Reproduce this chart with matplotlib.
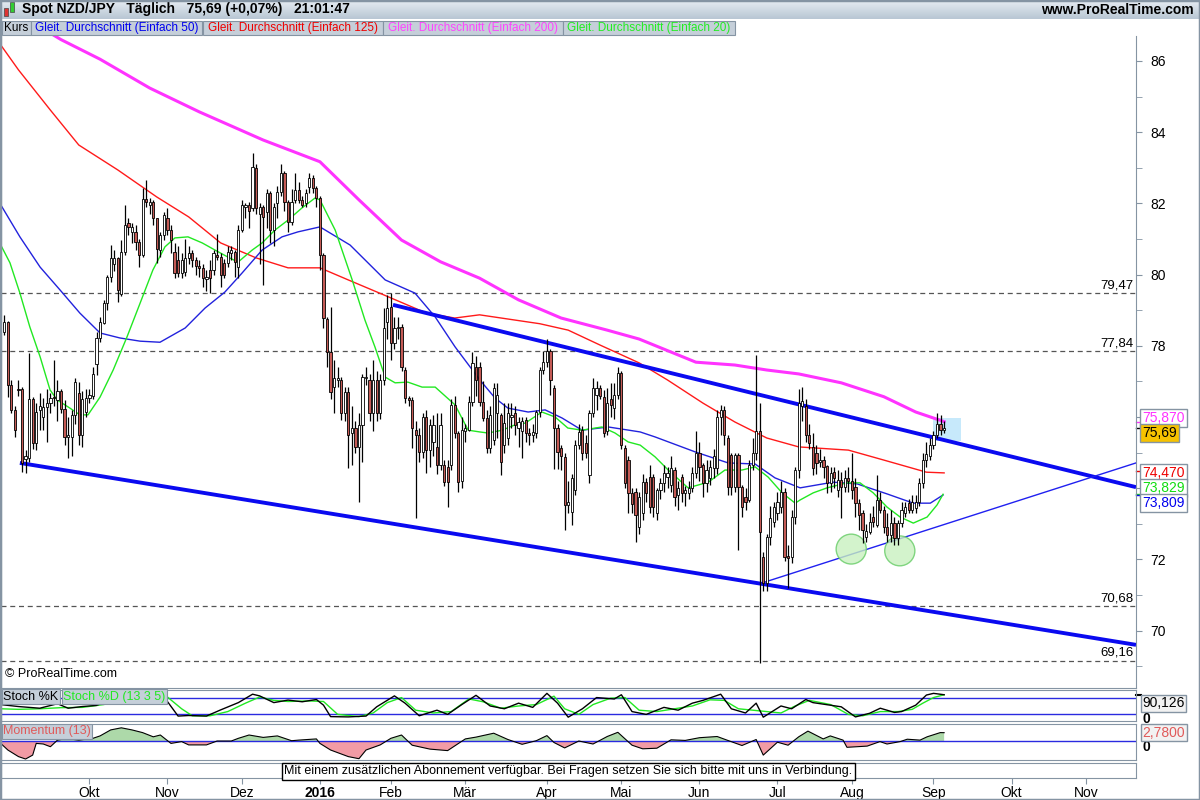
import numpy as np
import pandas as pd
import matplotlib
matplotlib.use('Agg')
import matplotlib.pyplot as plt
import matplotlib.transforms as mtrans
from matplotlib.patches import Rectangle, Ellipse

plt.rcParams['font.family'] = ['Liberation Sans', 'DejaVu Sans']

# ---- daily candles NZD/JPY, 28.08.2015 .. 06.09.2016 ----
opens = [78.38, 78.67, 76.90, 76.20, 76.80, 76.79, 74.82, 74.85, 76.50, 75.26,
         76.20, 76.00, 76.27, 76.40, 76.52, 76.48, 76.74, 76.22, 75.45, 75.45,
         76.06, 76.67, 75.50, 76.13, 76.54, 76.60, 77.48, 78.21, 78.63, 79.19,
         79.94, 80.30, 80.46, 79.45, 80.64, 81.44, 81.21, 81.21, 80.92, 80.55,
         82.11, 81.95, 82.05, 81.58, 80.69, 81.11, 81.58, 81.25, 80.64, 80.41,
         80.04, 80.08, 80.46, 80.60, 80.40, 80.25, 80.18, 79.88, 80.13, 80.13,
         80.55, 80.50, 80.32, 80.32, 80.60, 80.64, 80.22, 81.25, 81.90, 81.96,
         81.86, 82.99, 81.70, 81.90, 81.77, 82.28, 81.25, 82.00, 82.33, 82.85,
         82.05, 81.49, 82.10, 82.38, 82.10, 82.00, 82.47, 82.70, 82.42, 82.14,
         80.55, 78.74, 77.83, 76.85, 77.04, 77.04, 76.10, 76.71, 75.54, 75.68,
         75.17, 75.78, 77.09, 77.04, 76.10, 77.04, 76.10, 77.04, 78.68, 79.10,
         78.07, 78.50, 78.54, 77.32, 76.52, 76.48, 75.64, 75.49, 75.03, 76.01,
         75.07, 75.30, 75.17, 74.65, 74.65, 74.60, 74.65, 76.34, 75.54, 74.20,
         75.60, 75.64, 76.43, 77.41, 77.41, 76.43, 75.96, 75.12, 75.35, 76.10,
         76.06, 75.21, 75.40, 76.00, 76.10, 75.68, 75.60, 75.92, 75.54, 75.50,
         75.54, 76.15, 77.32, 77.55, 77.84, 76.81, 75.68, 75.12, 74.88, 73.53,
         73.34, 73.95, 75.21, 75.63, 75.26, 74.37, 76.10, 76.62, 76.81, 76.57,
         75.60, 76.50, 76.25, 76.62, 77.23, 75.12, 74.79, 73.86, 73.90, 72.92,
         73.29, 74.18, 74.32, 74.32, 73.29, 73.95, 74.14, 74.32, 74.10, 74.51,
         73.80, 74.32, 73.86, 73.86, 74.00, 74.42, 74.98, 74.65, 74.14, 74.30,
         74.56, 74.56, 76.01, 76.20, 75.40, 74.93, 74.04, 74.93, 74.04, 73.76,
         73.67, 74.65, 74.98, 75.60, 72.08, 71.33, 72.64, 73.06, 73.30, 73.48,
         73.90, 72.10, 72.08, 73.20, 74.50, 76.30, 76.30, 75.50, 75.17, 75.00,
         74.75, 74.80, 74.61, 74.14, 74.45, 73.95, 74.23, 74.04, 74.30, 74.20,
         74.04, 73.58, 73.29, 72.64, 72.78, 73.20, 72.97, 73.67, 73.39, 72.92,
         72.69, 73.01, 72.60, 73.01, 73.30, 73.58, 73.39, 73.45, 73.60, 74.15,
         74.80, 74.90, 75.20, 75.50, 75.80, 75.64]
highs = [78.87, 78.70, 77.04, 76.30, 77.04, 76.85, 75.07, 77.79, 76.55, 76.38,
         76.67, 76.54, 76.80, 76.67, 77.60, 77.04, 76.80, 76.48, 75.99, 76.20,
         77.10, 76.98, 76.74, 76.80, 76.80, 77.41, 78.40, 78.80, 79.30, 80.00,
         80.83, 80.70, 80.50, 80.97, 81.95, 81.60, 81.44, 81.39, 81.00, 82.42,
         82.66, 82.15, 82.10, 81.60, 81.20, 81.77, 81.86, 81.40, 80.88, 80.79,
         80.60, 81.00, 80.80, 80.70, 80.50, 80.41, 80.30, 80.13, 80.40, 80.70,
         81.15, 80.60, 80.45, 80.80, 80.80, 80.70, 81.40, 82.10, 82.00, 82.05,
         83.41, 83.10, 82.00, 81.95, 82.40, 82.35, 82.00, 82.50, 83.10, 82.90,
         82.10, 82.40, 82.85, 82.60, 82.20, 82.40, 82.85, 82.80, 82.50, 82.20,
         80.60, 78.80, 79.10, 77.60, 77.41, 77.13, 76.85, 76.85, 76.30, 75.90,
         76.10, 77.20, 77.40, 77.20, 77.60, 77.30, 77.20, 79.05, 79.43, 79.47,
         78.80, 78.80, 78.60, 77.40, 76.60, 76.55, 75.90, 75.70, 76.10, 76.20,
         75.95, 76.05, 76.10, 76.10, 74.80, 74.80, 76.50, 76.60, 75.60, 76.00,
         75.80, 76.60, 77.83, 77.70, 77.55, 77.00, 76.20, 76.30, 76.95, 76.95,
         76.10, 76.38, 76.40, 76.40, 76.30, 76.00, 76.00, 76.00, 75.70, 75.80,
         76.20, 77.41, 77.84, 78.20, 77.90, 76.90, 75.80, 75.20, 75.00, 74.20,
         74.40, 75.35, 75.80, 75.75, 75.50, 76.20, 77.10, 77.00, 76.90, 76.76,
         76.81, 76.95, 76.95, 77.40, 77.30, 75.20, 74.90, 74.00, 74.00, 73.90,
         74.40, 74.30, 74.65, 74.40, 74.00, 74.30, 74.65, 74.60, 74.90, 74.60,
         74.20, 74.40, 74.05, 74.20, 74.60, 75.60, 75.30, 74.70, 74.80, 74.80,
         75.10, 76.20, 76.34, 76.30, 75.50, 75.00, 75.00, 75.00, 74.10, 74.00,
         74.80, 75.40, 77.74, 76.38, 72.20, 72.70, 73.50, 73.60, 73.90, 74.20,
         74.00, 72.40, 73.40, 74.60, 76.80, 76.85, 76.50, 75.80, 75.54, 75.20,
         75.10, 74.90, 74.66, 74.60, 74.60, 74.50, 74.45, 74.50, 74.60, 75.00,
         74.30, 73.70, 73.40, 73.00, 73.30, 73.50, 74.37, 73.90, 73.50, 73.30,
         73.40, 73.20, 73.10, 73.60, 73.60, 73.70, 73.80, 73.80, 74.30, 75.00,
         75.30, 75.40, 75.60, 76.10, 76.05, 75.90]
lows = [78.30, 76.57, 76.10, 75.45, 76.60, 74.46, 74.42, 74.75, 75.10, 75.07,
        75.64, 75.64, 75.30, 76.10, 76.30, 75.90, 76.10, 75.20, 74.84, 74.90,
        75.80, 75.20, 75.17, 76.00, 76.40, 76.50, 77.17, 78.10, 78.60, 79.00,
        79.80, 80.10, 79.24, 79.40, 80.55, 81.10, 80.90, 80.70, 80.22, 80.50,
        81.90, 81.70, 81.40, 80.32, 80.50, 80.97, 81.10, 80.60, 79.90, 79.94,
        79.90, 79.95, 80.30, 80.20, 80.00, 79.94, 79.66, 79.55, 79.47, 80.00,
        80.40, 79.66, 79.90, 80.20, 80.40, 79.94, 79.90, 81.20, 81.60, 81.30,
        81.80, 81.70, 80.30, 79.71, 81.30, 80.90, 80.80, 81.60, 82.20, 81.80,
        81.20, 81.40, 82.00, 82.00, 81.90, 81.90, 82.30, 82.30, 81.90, 80.13,
        78.50, 77.41, 76.50, 76.10, 76.85, 75.92, 75.90, 74.56, 74.65, 74.98,
        73.62, 74.75, 76.90, 75.90, 75.60, 75.90, 75.95, 76.90, 78.20, 77.60,
        77.90, 78.20, 77.30, 76.40, 76.30, 75.12, 73.15, 74.75, 74.85, 74.42,
        74.60, 74.90, 74.40, 74.50, 74.05, 73.48, 74.50, 75.40, 73.90, 74.00,
        75.30, 75.60, 76.30, 76.60, 76.30, 75.90, 74.98, 75.00, 75.20, 75.40,
        74.37, 75.00, 75.20, 75.70, 75.50, 75.15, 74.84, 75.30, 75.20, 75.30,
        75.40, 76.00, 77.20, 77.40, 76.62, 74.55, 74.55, 74.50, 72.82, 73.30,
        72.97, 73.80, 75.10, 74.80, 74.84, 74.14, 76.00, 76.20, 76.50, 75.45,
        75.50, 76.00, 75.95, 76.50, 75.10, 74.00, 73.30, 73.30, 72.50, 72.70,
        73.10, 73.60, 73.30, 73.20, 73.10, 73.70, 73.90, 74.00, 73.90, 73.50,
        73.40, 73.60, 73.50, 73.70, 73.90, 74.30, 74.20, 73.76, 73.90, 74.10,
        74.30, 74.40, 75.50, 75.20, 73.80, 73.80, 73.90, 72.26, 73.20, 73.40,
        73.60, 74.50, 74.80, 69.08, 71.10, 71.10, 72.40, 72.90, 73.10, 73.30,
        71.95, 71.20, 71.90, 73.00, 74.30, 75.90, 75.30, 75.10, 74.37, 74.40,
        74.60, 74.30, 73.86, 73.90, 74.00, 73.76, 73.15, 73.90, 73.90, 73.70,
        73.20, 72.83, 72.45, 72.50, 72.70, 72.90, 72.90, 73.30, 72.73, 72.50,
        72.50, 72.40, 72.40, 72.90, 73.20, 73.30, 73.30, 73.30, 73.50, 74.00,
        74.60, 74.80, 75.10, 75.40, 75.50, 75.55]
closes = [78.67, 76.90, 76.20, 75.64, 76.75, 74.71, 74.90, 76.50, 75.26, 76.14,
          76.30, 76.27, 76.40, 76.52, 76.50, 76.74, 76.22, 75.45, 75.50, 76.06,
          76.98, 75.50, 76.50, 76.54, 76.62, 77.21, 78.21, 78.67, 79.19, 79.94,
          80.46, 80.46, 79.57, 80.64, 81.39, 81.33, 81.33, 80.92, 80.55, 82.11,
          82.05, 82.05, 81.58, 80.71, 81.11, 81.67, 81.25, 80.97, 80.04, 80.04,
          80.41, 80.46, 80.60, 80.40, 80.25, 80.18, 79.90, 79.92, 79.90, 80.60,
          80.50, 79.99, 79.99, 80.64, 80.69, 80.36, 81.25, 81.96, 81.96, 81.80,
          83.03, 81.86, 81.90, 81.63, 82.28, 81.25, 81.90, 82.33, 82.85, 82.05,
          81.49, 82.05, 82.38, 82.10, 81.96, 82.30, 82.70, 82.42, 82.14, 80.55,
          78.77, 77.83, 76.71, 77.09, 77.09, 76.10, 76.71, 75.49, 75.68, 75.17,
          75.78, 77.13, 77.13, 76.10, 77.04, 76.10, 77.04, 78.49, 79.05, 78.07,
          78.50, 78.54, 77.41, 76.52, 76.48, 75.68, 75.49, 75.03, 76.01, 75.07,
          75.78, 75.78, 74.65, 75.78, 74.18, 74.18, 76.34, 75.54, 74.18, 75.64,
          75.70, 76.43, 77.51, 77.04, 76.43, 75.96, 75.12, 76.06, 76.81, 76.62,
          74.74, 75.82, 76.10, 76.06, 75.77, 75.85, 75.90, 75.54, 75.49, 75.58,
          76.15, 77.32, 77.55, 77.84, 77.04, 75.68, 75.03, 74.90, 73.53, 73.60,
          74.28, 75.21, 75.58, 74.98, 74.98, 76.10, 76.81, 76.81, 76.60, 75.54,
          76.40, 76.35, 76.62, 77.23, 75.21, 74.14, 73.86, 73.57, 73.25, 73.76,
          74.18, 73.86, 73.48, 73.48, 73.95, 74.14, 74.42, 74.42, 74.56, 73.76,
          74.00, 73.86, 73.95, 74.00, 74.42, 74.98, 74.60, 74.14, 74.50, 74.60,
          74.90, 76.01, 76.20, 75.49, 74.04, 74.04, 74.93, 74.04, 73.48, 73.60,
          74.65, 74.98, 75.60, 72.78, 71.33, 72.64, 73.15, 73.48, 73.60, 73.90,
          72.08, 72.05, 73.20, 74.50, 76.40, 76.45, 75.50, 75.26, 74.56, 74.70,
          74.80, 74.60, 74.14, 74.42, 74.28, 74.23, 74.04, 74.30, 74.20, 73.95,
          73.58, 73.25, 72.83, 72.80, 73.06, 73.05, 73.67, 73.39, 72.92, 72.69,
          73.01, 72.60, 73.01, 73.39, 73.48, 73.39, 73.60, 73.60, 74.15, 74.80,
          74.95, 75.20, 75.50, 75.80, 75.64, 75.69]

# moving averages (candle index, value)
ma200_x = [13, 16, 27, 41, 55, 73, 89, 100, 112, 123, 134, 145, 157, 170, 179, 195, 206, 215, 224, 236, 248, 257, 265]
ma200_y = [86.78, 86.60, 86.05, 85.24, 84.57, 83.78, 83.17, 82.10, 80.97, 80.36, 79.90, 79.29, 78.78, 78.44,
           78.19, 77.54, 77.46, 77.32, 77.21, 76.96, 76.57, 76.14, 75.87]
ma125_x = [-1, 4, 13, 21, 32, 43, 52, 61, 71, 80, 89, 97, 107, 119, 127, 134, 151, 159, 168, 179, 187, 197, 206,
           215, 224, 238, 248, 260, 265]
ma125_y = [86.45, 85.75, 84.62, 83.64, 82.94, 82.18, 81.62, 80.89, 80.47, 80.19, 80.19, 79.85, 79.43, 78.92, 78.78,
           78.87, 78.62, 78.44, 78.02, 77.52, 77.04, 76.39, 75.86, 75.41, 75.16, 75.07, 74.79, 74.45, 74.43]
ma50_x = [-1, 4.4, 10.1, 15.7, 21.3, 27.0, 32.6, 38.3, 43.9, 51.0, 56.6, 62.2, 67.0, 72.7, 78.3, 82.8, 89.0, 97.5,
          107.4, 115.8, 121.5, 127.1, 134.1, 138.4, 142.0, 147.7, 152.5, 157.3, 162.9, 170.3, 179.3, 183.5, 194.8,
          204.1, 211.7, 217.3, 224.4, 233.7, 240.5, 248.9, 256.3, 261.1, 264.7]
ma50_y = [81.96, 81.06, 80.21, 79.57, 78.92, 78.36, 78.22, 78.13, 78.10, 78.50, 79.06, 79.51, 80.04, 80.69, 81.06,
          81.20, 81.34, 80.83, 79.85, 79.48, 78.81, 77.97, 77.04, 76.53, 76.25, 76.14, 76.20, 75.97, 75.63, 75.72,
          75.58, 75.44, 75.02, 74.71, 74.68, 74.29, 74.01, 74.17, 74.12, 73.84, 73.58, 73.58, 73.81]
ma20_x = [-1, 1.6, 4.4, 7.2, 10.1, 12.9, 14.9, 18.5, 21.3, 23.6, 27.0, 30.7, 34.6, 38.3, 41.9, 45.3, 48.1, 51.8,
          55.8, 59.4, 63.1, 65.9, 69.9, 72.7, 76.3, 80.0, 83.9, 87.6, 89.0, 93.3, 98.1, 101.7, 104.5, 107.4, 110.2,
          113.8, 117.8, 121.5, 127.1, 130.8, 134.1, 136.4, 140.4, 144.0, 146.9, 151.6, 155.3, 158.9, 162.9, 168.5,
          172.2, 175.9, 179.3, 183.5, 187.2, 192.8, 198.5, 203.2, 208.0, 211.7, 215.4, 219.3, 223.0, 224.4, 228.1,
          232.0, 237.6, 241.3, 245.0, 248.9, 252.6, 256.3, 260.2, 263.0, 264.7]
ma20_y = [80.83, 80.33, 79.48, 78.53, 77.69, 76.76, 76.48, 76.25, 76.06, 76.06, 76.56, 77.32, 78.25, 79.20, 80.13,
          80.78, 81.03, 81.06, 80.89, 80.69, 80.49, 80.35, 80.69, 80.89, 81.25, 81.53, 81.87, 82.15, 82.10, 81.25,
          79.85, 78.72, 77.97, 77.12, 76.96, 76.98, 76.84, 76.84, 76.34, 75.63, 75.58, 75.55, 75.63, 75.78, 75.83,
          76.14, 76.00, 75.69, 75.63, 75.72, 75.55, 75.30, 75.21, 74.88, 74.51, 74.01, 74.17, 74.51, 74.51, 74.60,
          74.31, 73.87, 73.58, 73.67, 73.87, 74.01, 74.15, 74.15, 73.87, 73.47, 73.19, 73.02, 73.19, 73.53, 73.83]

# Stochastic (13 3 5)
stk_x = [-1, 4, 10, 15, 18, 22, 26, 30, 36, 42, 45, 49, 52, 57, 61, 66, 70, 72, 76, 80, 84, 88, 90, 92, 97, 102,
         105, 110, 113, 117, 122, 125, 129, 133, 137, 141, 145, 149, 153, 156, 159, 163, 167, 172, 174, 177, 181,
         186, 190, 194, 197, 202, 205, 209, 212, 214, 219, 222, 226, 228, 236, 240, 244, 247, 251, 253, 257, 260,
         262, 265]
stk_k = [55, 48, 42, 58, 42, 48, 52, 72, 86, 88, 83, 14, 16, 14, 36, 62, 92, 86, 62, 71, 65, 73, 53, 12, 11, 14,
         47, 86, 60, 15, 35, 20, 55, 88, 50, 40, 60, 45, 95, 60, 10, 40, 80, 75, 90, 30, 20, 45, 35, 60, 70, 92,
         40, 25, 60, 10, 50, 40, 73, 62, 47, 11, 24, 42, 27, 30, 53, 89, 95, 90.126]
std_x = [-1, 4, 10, 16, 22, 28, 34, 40, 46, 50, 53, 58, 63, 68, 72, 76, 80, 86, 90, 94, 100, 104, 108, 112, 116,
         121, 126, 131, 135, 140, 145, 150, 155, 158, 162, 166, 171, 175, 179, 184, 189, 194, 199, 203, 207, 211,
         215, 219, 223, 227, 233, 238, 242, 247, 252, 256, 259, 262, 265]
std_d = [40, 38, 40, 44, 45, 55, 72, 84, 82, 40, 15, 15, 30, 60, 82, 70, 66, 68, 66, 20, 12, 25, 62, 80, 35, 25,
         30, 75, 65, 42, 50, 55, 85, 40, 20, 55, 78, 80, 35, 30, 40, 50, 72, 70, 40, 35, 30, 25, 50, 70, 55, 20, 15,
         30, 30, 38, 60, 80, 90]

# Momentum (13)
mom_x = [-1, 1, 4, 6, 8, 9, 11, 13, 15, 18, 19, 21, 25, 27, 30, 33, 36, 39, 42, 44, 47, 50, 52, 57, 60, 64, 66,
         69, 73, 77, 81, 83, 88, 89, 92, 97, 100, 102, 106, 109, 112, 115, 120, 125, 130, 133, 138, 142, 146, 150,
         153, 155, 158, 162, 166, 170, 173, 177, 180, 184, 188, 192, 196, 201, 204, 208, 212, 214, 218, 221, 224,
         226.6, 230.9, 232.9, 236.5, 237.6, 243.3, 246.9, 248.9, 252.6, 254.6, 258.2, 260.2, 263.9, 265]
mom_v = [-0.8, -3.0, -5.2, -6.0, -4.7, -0.8, -1.0, -1.9, 0.3, 0.9, 0.6, 0.3, 0.9, 1.7, 3.7, 4.4, 3.7, 2.8, 1.4,
         2.0, -0.8, -0.2, -1.3, -1.3, 0.0, 0.0, 0.9, 2.0, 1.2, 1.7, 0.1, 0.3, 0.7, -0.8, -3.0, -5.2, -5.9, -3.0,
         -1.3, 0.9, 2.0, -1.4, -2.7, -3.2, 0.7, 1.3, 2.6, 0.5, -1.1, 0.1, 1.8, -0.5, -2.3, 0.0, -1.0, 1.5, 2.9,
         -1.4, -2.6, -2.4, 0.4, 0.2, 1.1, 1.5, 0.2, -1.5, 0.5, -4.7, -0.4, -1.4, 1.4, 3.3, 0.7, 1.7, 0.3, -2.1,
         -1.7, -0.2, -1.0, -0.2, 0.6, 0.3, 1.4, 2.8, 2.78]

# drawn objects: trend lines (index, price) pairs, levels, marked lows
trend_thick = [((109.6, 79.15), (319.1, 74.03)), ((4.4, 74.71), (319.1, 69.60))]
trend_thin = [((213.7, 71.34), (319.1, 74.71))]
levels = [79.47, 77.84, 70.68, 69.16]
circles = [(238.8, 72.29), (252.5, 72.24)]
month_names = ['Okt', 'Nov', 'Dez', '2016', 'Feb', 'Mär', 'Apr', 'Mai', 'Jun', 'Jul', 'Aug', 'Sep', 'Okt', 'Nov']

W, H = 1200, 800
fig = plt.figure(figsize=(12, 8), dpi=100)
fig.patch.set_facecolor('white')


def px(x0, y0, x1, y1):
    return [x0 / W, 1 - y1 / H, (x1 - x0) / W, (y1 - y0) / H]


def frect(x0, y0, x1, y1, **kw):
    # rectangle in figure pixels (top-left origin)
    fig.add_artist(Rectangle((x0 / W, 1 - y1 / H), (x1 - x0) / W, (y1 - y0) / H, transform=fig.transFigure, **kw))


GRAY = '#8594a3'
LBOX = '#c5cfd9'
XL = (-0.93, 319.1)
idx = np.arange(len(closes))
o = np.array(opens); h = np.array(highs); l = np.array(lows); c = np.array(closes)

dates = pd.bdate_range('2015-08-28', '2016-12-30')
dates = dates[~dates.isin(pd.to_datetime(['2015-12-25', '2016-01-01']))]
mstart = [i for i in range(1, len(dates)) if dates[i].month != dates[i - 1].month
          and pd.Timestamp('2015-10-01') <= dates[i] <= pd.Timestamp('2016-11-30')]

# ---- header ----
axh = fig.add_axes(px(0, 0, 1200, 19))
cm = matplotlib.colors.LinearSegmentedColormap.from_list('h', ['#b9c7d4', '#e6ecf2'])
axh.imshow(np.linspace(0, 1, 20).reshape(-1, 1), aspect='auto', cmap=cm, extent=[0, 1, 0, 1], origin='lower')
axh.set_xlim(0, 1); axh.set_ylim(0, 1); axh.axis('off')
axh.add_patch(Rectangle((4 / W, 0.15), 4 / W, 0.45, facecolor='#dd3333', edgecolor='#444444', lw=0.5))
axh.add_patch(Rectangle((10 / W, 0.35), 4 / W, 0.55, facecolor='#33cc33', edgecolor='#444444', lw=0.5))
axh.text(22 / W, 0.5, 'Spot NZD/JPY   Täglich   75,69 (+0,07%)   21:01:47', fontsize=10, fontweight='bold', va='center')
axh.text(1194 / W, 0.5, 'www.ProRealTime.com', fontsize=10, fontweight='bold', va='center', ha='right')

legend = [('Kurs', 'black', 2, 31), ('Gleit. Durchschnitt (Einfach 50)', '#0000ee', 31, 202),
          ('Gleit. Durchschnitt (Einfach 125)', '#ee0000', 203, 383),
          ('Gleit. Durchschnitt (Einfach 200)', '#ff44ff', 383, 563),
          ('Gleit. Durchschnitt (Einfach 20)', '#22ee22', 563, 735)]
for txt, col, x0, x1 in legend:
    frect(x0, 21, x1, 35, facecolor=LBOX, edgecolor=GRAY, lw=0.8, zorder=5)
    fig.text((x0 + x1) / 2 / W, 1 - 28 / H, txt, color=col, fontsize=8.5, ha='center', va='center', zorder=6)

# ---- main price panel ----
ax = fig.add_axes(px(1, 36, 1136, 688))
ax.set_xlim(*XL)
ax.set_ylim(68.388, 86.702)
for s in ax.spines.values():
    s.set_color(GRAY)
ax.spines['top'].set_visible(False)
ax.yaxis.tick_right()
ticks = np.arange(70, 87, 2)
ax.set_yticks(ticks)
ax.set_yticklabels(['' if t in (74, 76) else str(t) for t in ticks])
ax.set_yticks(np.arange(69, 87, 1), minor=True)
ax.tick_params(axis='y', which='both', length=4, color=GRAY, labelsize=10, pad=6)
ax.set_xticks([])

ax.add_patch(Rectangle((261.9, 75.33), 7.9, 0.64, facecolor='#c7e9fb', edgecolor='none', zorder=0))
for cx, cy in circles:
    ax.add_patch(Ellipse((cx, cy), 8.5, 0.84, facecolor='#c8f0c0', edgecolor='#66cc66', alpha=0.8, lw=1, zorder=4))

bt = mtrans.blended_transform_factory(ax.transAxes, ax.transData)
for lv in levels:
    ax.axhline(lv, color='#555555', ls=(0, (4, 3)), lw=0.9, zorder=1)
    ax.text(0.9975, lv + 0.06, f'{lv:.2f}'.replace('.', ','), transform=bt, ha='right', va='bottom', fontsize=9.5)

ax.plot(ma200_x, ma200_y, color='#ff33ff', lw=2.2, zorder=2)
ax.plot(ma125_x, ma125_y, color='#ff1a1a', lw=1, zorder=2)
ax.plot(ma50_x, ma50_y, color='#2222dd', lw=1, zorder=2)
ax.plot(ma20_x, ma20_y, color='#22e822', lw=1, zorder=2)

for (x0, y0), (x1, y1) in trend_thick:
    ax.plot([x0, x1], [y0, y1], color='#0a0af0', lw=2.8, zorder=3, solid_capstyle='butt')
for (x0, y0), (x1, y1) in trend_thin:
    ax.plot([x0, x1], [y0, y1], color='#2020f0', lw=1.0, zorder=3)

ax.vlines(idx, l, h, color='black', lw=0.9, zorder=5)
up = c >= o
body = np.where(np.abs(c - o) < 0.03, 0.03, c - o)
ax.bar(idx, body, bottom=o, width=0.62, color=np.where(up, 'white', '#c45a55'), edgecolor='black', lw=0.6, zorder=6)

ax.text(4 / 1135, 0.012, '© ProRealTime.com', transform=ax.transAxes, fontsize=9, va='bottom')

# value boxes on the price scale
boxes = [('75,870', '#ff33ff', 'white', 75.87, 418), ('75,69', 'black', '#f6c200', 75.69, 433),
         ('74,470', '#ee0000', 'white', 74.47, 473), ('73,829', '#11dd11', 'white', 73.829, 488),
         ('73,809', '#0000ee', 'white', 73.809, 503)]
for txt, col, fc, val, ypix in boxes:
    ypos = 86 - (ypix - 61) / 35.6
    ax.text(1.0055, ypos, txt, transform=bt, color=col, fontsize=10, va='center', ha='left', zorder=10,
            bbox=dict(boxstyle='square,pad=0.15', facecolor=fc, edgecolor=GRAY, lw=1), clip_on=False)
    ax.plot([1.0, 1.0045], [val, val], transform=bt, color=col, lw=1, clip_on=False)

# ---- stochastic panel ----
ax2 = fig.add_axes(px(1, 690, 1136, 721))
ax2.set_xlim(*XL); ax2.set_ylim(-3.6, 107)
ax2.axhline(80, color='#2a2ae0', lw=1); ax2.axhline(20, color='#2a2ae0', lw=1)
ax2.plot(std_x, std_d, color='#22e822', lw=1)
ax2.plot(stk_x, stk_k, color='black', lw=1)
ax2.set_xticks([]); ax2.set_yticks([])
for s in ax2.spines.values():
    s.set_color(GRAY)
ax2.text(2 / 1135, 0.97, 'Stoch %K', transform=ax2.transAxes, fontsize=9, va='top', ha='left', zorder=8,
         bbox=dict(boxstyle='square,pad=0.12', facecolor=LBOX, edgecolor=GRAY, lw=0.8))
ax2.text(62 / 1135, 0.97, 'Stoch %D (13 3 5)', transform=ax2.transAxes, fontsize=9, va='top', ha='left', zorder=8,
         color='#22e822', bbox=dict(boxstyle='square,pad=0.12', facecolor=LBOX, edgecolor=GRAY, lw=0.8))
bt2 = mtrans.blended_transform_factory(ax2.transAxes, ax2.transData)
ax2.text(1.0055, 60, '90,126', transform=bt2, fontsize=10, va='center', clip_on=False,
         bbox=dict(boxstyle='square,pad=0.12', facecolor='#f2f2f2', edgecolor=GRAY, lw=1))
ax2.text(1.0055, 2, '0', transform=bt2, fontsize=10, fontweight='bold', va='center', clip_on=False)
ax2.plot([1.0, 1.0045], [90.126, 90.126], transform=bt2, color='black', lw=1.5, clip_on=False)

# ---- momentum panel ----
ax3 = fig.add_axes(px(1, 724, 1136, 760))
ax3.set_xlim(*XL); ax3.set_ylim(-6.33, 5.67)
mx = np.array(mom_x); mv = np.array(mom_v)
ax3.fill_between(mx, 0, mv, where=mv >= 0, interpolate=True, color='#9fd39a', alpha=0.85, lw=0)
ax3.fill_between(mx, 0, mv, where=mv <= 0, interpolate=True, color='#f08a96', alpha=0.85, lw=0)
ax3.axhline(0, color='#2a2ae0', lw=1)
ax3.plot(mx, mv, color='black', lw=0.8)
ax3.set_xticks([]); ax3.set_yticks([])
for s in ax3.spines.values():
    s.set_color(GRAY)
ax3.text(2 / 1135, 0.97, 'Momentum (13)', transform=ax3.transAxes, fontsize=9, va='top', ha='left', color='#e05a5a',
         zorder=8, bbox=dict(boxstyle='square,pad=0.12', facecolor=LBOX, edgecolor=GRAY, lw=0.8))
bt3 = mtrans.blended_transform_factory(ax3.transAxes, ax3.transData)
ax3.text(1.0055, -2.0, '0', transform=bt3, fontsize=10, fontweight='bold', va='center', clip_on=False)
ax3.text(1.0055, 2.78, '2,7800', transform=bt3, fontsize=10, color='#e05a5a', va='center', clip_on=False, zorder=9,
         bbox=dict(boxstyle='square,pad=0.12', facecolor='#f2f2f2', edgecolor=GRAY, lw=1))

# ---- message panel + date axis ----
ax4 = fig.add_axes(px(1, 763, 1136, 778))
ax4.set_xlim(*XL); ax4.set_ylim(0, 1)
ax4.set_yticks([])
for s in ax4.spines.values():
    s.set_color(GRAY)
ax4.text(0.5, 0.45, 'Mit einem zusätzlichen Abonnement verfügbar. Bei Fragen setzen Sie sich bitte mit uns in Verbindung.',
         transform=ax4.transAxes, ha='center', va='center', fontsize=9,
         bbox=dict(boxstyle='square,pad=0.18', facecolor='white', edgecolor='black', lw=1))
ax4.set_xticks(mstart)
ax4.set_xticklabels(month_names, fontsize=10)
for t in ax4.get_xticklabels():
    if t.get_text() == '2016':
        t.set_fontweight('bold')
ax4.tick_params(axis='x', length=4, color=GRAY, pad=2)

frect(0, 0, 1200, 800, fill=False, edgecolor=GRAY, lw=2.5, zorder=20)

fig.savefig('out.png', dpi=100)
